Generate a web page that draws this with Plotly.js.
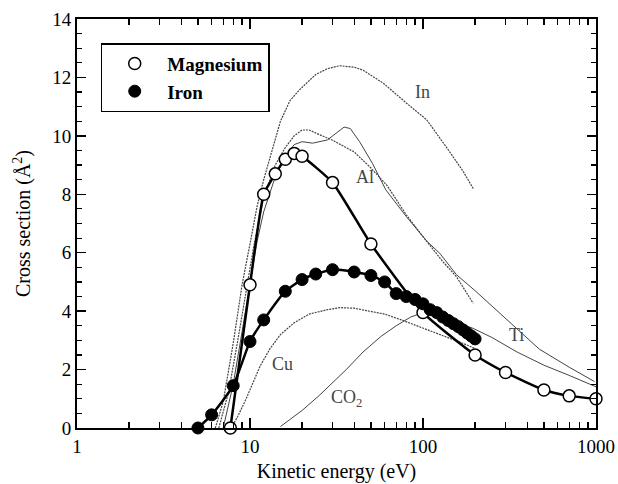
<!DOCTYPE html>
<html>
<head>
<meta charset="utf-8">
<script src="https://cdn.plot.ly/plotly-3.0.1.min.js"></script>
<style>html,body{margin:0;padding:0;background:#fff}#chart{width:618px;height:484px}</style>
</head>
<body>
<div id="chart"></div>
<script>
// Measured series (Kinetic energy in eV, cross section in Å^2)
const mgX = [7.7, 10, 12, 14, 16, 18, 20, 30, 50, 100, 200, 300, 500, 700, 1000];
const mgY = [0, 4.9, 8.0, 8.7, 9.2, 9.4, 9.3, 8.4, 6.3, 3.95, 2.5, 1.9, 1.3, 1.1, 1.0];

const feX = [5, 6, 8, 10, 12, 16, 20, 24, 30, 40, 50, 60, 70, 80, 90, 100, 110, 120, 130, 140, 150, 160, 170, 180, 190, 200];
const feY = [0, 0.45, 1.45, 2.96, 3.7, 4.68, 5.08, 5.27, 5.42, 5.34, 5.22, 5.0, 4.6, 4.5, 4.4, 4.25, 4.05, 3.95, 3.8, 3.68, 3.57, 3.47, 3.36, 3.25, 3.15, 3.05];

// Reference curves
const inX = [6.3, 7, 8, 9, 10, 11, 12, 13, 15, 17, 19.5, 24, 28, 33, 40, 45, 59, 81, 105, 137, 170, 195];
const inY = [0, 0.9, 2.9, 4.9, 6.3, 7.6, 8.5, 9.2, 10.5, 11.2, 11.6, 12.1, 12.3, 12.4, 12.35, 12.25, 11.8, 11.1, 10.55, 9.6, 8.8, 8.2];

const alX = [6.6, 7.5, 8.5, 9.5, 10.5, 12, 14, 16, 18, 20, 22, 25, 30, 40, 50, 62, 80, 100, 130, 156, 195];
const alY = [0, 1.2, 3.0, 4.7, 6.2, 7.9, 9.0, 9.6, 10.0, 10.2, 10.2, 10.05, 9.85, 9.45, 8.9, 8.3, 7.3, 6.55, 5.7, 5.18, 4.27];

const tiX = [7, 8, 9, 10, 11, 12, 14, 16, 18, 20, 23, 28, 31, 35, 38, 43, 51, 61, 80, 105, 125, 156, 200, 280, 470, 700, 980];
const tiY = [0, 1.5, 3.3, 5.0, 6.4, 7.4, 8.6, 9.3, 9.7, 9.8, 9.75, 9.86, 10.05, 10.3, 10.25, 9.8, 9.06, 8.15, 7.24, 6.4, 5.98, 5.25, 4.7, 3.9, 2.7, 2.08, 1.59];

const cuX = [7.8, 8.5, 9.5, 10.5, 11.4, 13, 15, 18, 22, 28, 33, 40, 50, 60, 75, 100, 137, 170, 200];
const cuY = [0, 0.4, 1.0, 1.6, 2.1, 2.7, 3.2, 3.6, 3.9, 4.05, 4.12, 4.1, 4.0, 3.9, 3.7, 3.42, 3.13, 2.9, 2.72];

const co2X = [15, 17, 20, 25, 30, 36, 45, 57, 70, 85, 100, 115, 135, 160, 195, 250, 350, 500, 700, 1000];
const co2Y = [0.05, 0.3, 0.6, 1.1, 1.55, 2.0, 2.6, 3.13, 3.5, 3.8, 3.95, 3.97, 3.8, 3.6, 3.41, 3.1, 2.6, 2.15, 1.8, 1.41];

const labelText = ['In', 'Al', 'Ti', 'Cu', 'CO<sub>2</sub>'];
const labelX = [98.7, 46.2, 349, 15.5, 36];
const labelY = [11.5, 8.6, 3.18, 2.19, 1.0];

const serif = 'Liberation Serif';
const grey = '#444444';

function refCurve(x, y, dash, w) {
  return {x: x, y: y, type: 'scatter', mode: 'lines', showlegend: false, hoverinfo: 'skip',
          line: {color: grey, width: w || 1.2, dash: dash}};
}

const traces = [
  refCurve(inX, inY, '2px,1px'),
  refCurve(alX, alY, '2px,1px'),
  refCurve(tiX, tiY, 'solid', 1),
  refCurve(cuX, cuY, '2px,1px'),
  refCurve(co2X, co2Y, 'solid', 1),
  {x: mgX, y: mgY, type: 'scatter', mode: 'lines', showlegend: false,
   line: {color: '#000', width: 2.5, shape: 'spline', smoothing: 0.5}},
  {x: mgX, y: mgY, type: 'scatter', mode: 'markers', name: 'Magnesium', cliponaxis: false,
   marker: {symbol: 'circle', size: 12, color: '#fff', line: {color: '#000', width: 1.5}}},
  {x: feX, y: feY, type: 'scatter', mode: 'lines', showlegend: false,
   line: {color: '#000', width: 2.5, shape: 'spline', smoothing: 0.5}},
  {x: feX, y: feY, type: 'scatter', mode: 'markers', name: 'Iron', cliponaxis: false,
   marker: {symbol: 'circle', size: 12, color: '#000', line: {color: '#000', width: 1}}}
];

const annotations = labelText.map((t, i) => ({
  x: Math.log10(labelX[i]), y: labelY[i], xref: 'x', yref: 'y', text: t, showarrow: false,
  font: {family: serif, size: 18, color: '#444'}
}));

const layout = {
  width: 618, height: 484,
  margin: {l: 77, r: 22, t: 19, b: 56, pad: 0},
  paper_bgcolor: '#fff', plot_bgcolor: '#fff',
  font: {family: serif, size: 19, color: '#000'},
  xaxis: {
    type: 'log', range: [0, 3], showgrid: false, zeroline: false,
    showline: true, linecolor: '#000', linewidth: 2, mirror: 'ticks',
    ticks: 'inside', ticklen: 10, tickwidth: 1.5, tickcolor: '#000',
    tickvals: [1, 10, 100, 1000], ticktext: ['1', '10', '100', '1000'],
    tickfont: {family: serif, size: 19},
    minor: {ticks: 'inside', ticklen: 6, tickwidth: 1.2, tickcolor: '#000', dtick: 'D1', showgrid: false},
    title: {text: 'Kinetic energy (eV)', font: {family: serif, size: 20}, standoff: 8}
  },
  yaxis: {
    range: [0, 14], showgrid: false, zeroline: false,
    showline: true, linecolor: '#000', linewidth: 2, mirror: 'ticks',
    ticks: 'inside', ticklen: 9, tickwidth: 1.5, tickcolor: '#000',
    dtick: 2, tickfont: {family: serif, size: 19},
    minor: {ticks: 'inside', ticklen: 5, tickwidth: 1.2, tickcolor: '#000', dtick: 0.5, showgrid: false},
    title: {text: 'Cross section (Å<sup>2</sup>)', font: {family: serif, size: 20}, standoff: 16}
  },
  legend: {
    x: 0.0457, y: 0.941, xanchor: 'left', yanchor: 'top',
    bgcolor: '#fff', bordercolor: '#000', borderwidth: 1.5,
    font: {family: serif, size: 19, color: '#000', weight: 'bold'},
    itemwidth: 55
  },
  showlegend: true,
  annotations: annotations
};

Plotly.newPlot('chart', traces, layout, {staticPlot: true, displayModeBar: false});
</script>
</body>
</html>
